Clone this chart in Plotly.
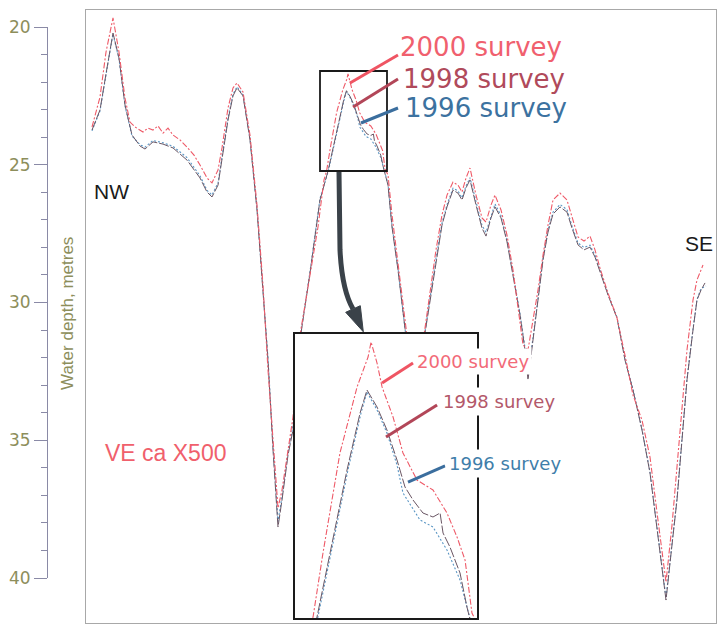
import plotly.graph_objects as go

# Echo-sounder profile NW -> SE across the banks: distance along line (km), water depth (m)
dist_2000 = [0.12, 0.28, 0.40, 0.54, 0.66, 0.78, 0.88, 0.98, 1.14, 1.24, 1.34, 1.44, 1.54, 1.64, 1.74,
             1.88, 2.02, 2.16, 2.28, 2.42, 2.52, 2.64, 2.72, 2.84, 2.94, 3.02, 3.14, 3.28, 3.42, 3.54,
             3.64, 3.74, 3.84, 3.92, 4.04, 4.14, 4.28, 4.48, 4.64, 4.76, 4.813, 4.886, 5.011, 5.137,
             5.218, 5.240, 5.284, 5.321, 5.402, 5.475, 5.578, 5.696, 5.799, 5.873, 5.932, 5.983, 6.04,
             6.12, 6.24, 6.38, 6.48, 6.58, 6.68, 6.78, 6.88, 7.00, 7.12, 7.22, 7.34, 7.44, 7.52, 7.60,
             7.68, 7.80, 7.92, 8.00, 8.10, 8.18, 8.30, 8.42, 8.54, 8.64, 8.74, 8.84, 8.94, 9.04, 9.14,
             9.24, 9.34, 9.48, 9.62, 9.72, 9.84, 9.96, 10.08, 10.18, 10.28, 10.44, 10.62, 10.78, 10.94,
             11.12, 11.28, 11.44, 11.60, 11.72, 11.82, 11.92, 12.02, 12.14, 12.22, 12.34]
depth_2000 = [23.63, 22.54, 20.91, 19.67, 20.91, 22.58, 23.45, 23.63, 23.81, 23.67, 23.74, 23.59, 23.85,
              23.67, 23.92, 24.10, 24.36, 24.65, 25.01, 25.48, 25.66, 25.19, 24.39, 22.94, 22.21, 22.03,
              22.36, 23.92, 26.46, 29.37, 32.45, 34.99, 37.46, 36.81, 35.35, 34.16, 31.18, 29.08, 27.26,
              25.55, 25.214, 24.396, 23.118, 22.274, 21.891, 21.699, 21.968, 22.274, 22.658, 23.118,
              23.463, 23.591, 23.885, 24.192, 24.486, 25.163, 25.37, 26.82, 28.53, 30.64, 32.09, 33.00,
              32.16, 30.93, 29.55, 28.09, 26.82, 26.10, 25.63, 25.74, 25.99, 25.48, 25.12, 26.10, 26.93,
              27.08, 26.46, 26.10, 26.64, 27.55, 28.82, 30.09, 31.54, 31.72, 30.64, 29.55, 28.28, 27.19,
              26.28, 26.03, 26.28, 26.93, 27.62, 27.77, 27.59, 28.09, 28.75, 29.66, 30.56, 31.91, 33.36,
              34.27, 35.61, 37.90, 40.15, 38.08, 35.97, 33.90, 31.72, 29.91, 29.18, 28.64]

dist_1998 = [0.12, 0.28, 0.42, 0.54, 0.66, 0.78, 0.92, 1.08, 1.18, 1.34, 1.54, 1.74, 2.02, 2.28, 2.42,
             2.52, 2.64, 2.72, 2.84, 2.94, 3.02, 3.14, 3.28, 3.42, 3.54, 3.64, 3.74, 3.84, 3.92, 4.04,
             4.14, 4.28, 4.48, 4.68, 4.842, 4.938, 5.063, 5.159, 5.210, 5.284, 5.357, 5.431, 5.490,
             5.549, 5.622, 5.696, 5.748, 5.770, 5.821, 5.895, 5.946, 6.04, 6.12, 6.24, 6.38, 6.48, 6.58,
             6.68, 6.78, 6.88, 7.00, 7.12, 7.22, 7.34, 7.44, 7.52, 7.60, 7.68, 7.80, 7.92, 8.00, 8.10,
             8.18, 8.30, 8.42, 8.54, 8.68, 8.78, 8.84, 8.94, 9.04, 9.14, 9.24, 9.34, 9.48, 9.62, 9.72,
             9.84, 9.96, 10.08, 10.18, 10.28, 10.44, 10.62, 10.78, 10.94, 11.12, 11.28, 11.44, 11.60,
             11.72, 11.82, 11.92, 12.02, 12.14, 12.22, 12.30, 12.38]
depth_1998 = [23.74, 23.01, 21.49, 20.22, 21.13, 22.83, 23.92, 24.32, 24.43, 24.17, 24.25, 24.39, 24.83,
              25.48, 25.99, 26.17, 25.74, 24.83, 23.38, 22.50, 22.21, 22.50, 24.10, 26.64, 29.55, 32.09,
              35.35, 38.15, 37.17, 35.54, 34.63, 31.36, 28.93, 26.28, 25.214, 24.396, 23.335, 22.607,
              22.313, 22.530, 22.824, 23.208, 23.553, 23.719, 23.885, 23.936, 23.885, 24.141, 24.320,
              24.652, 25.086, 25.74, 27.26, 28.82, 31.00, 32.45, 33.36, 32.45, 31.11, 29.91, 28.46,
              27.19, 26.53, 25.92, 26.03, 26.28, 25.84, 25.55, 26.46, 27.30, 27.59, 26.93, 26.53, 26.93,
              27.80, 29.00, 30.45, 31.72, 32.81, 31.36, 29.91, 28.46, 27.44, 26.79, 26.53, 26.72, 27.30,
              27.91, 28.09, 27.99, 28.35, 28.89, 29.73, 30.56, 32.09, 33.18, 34.63, 36.19, 38.44, 40.80,
              38.80, 37.17, 34.99, 32.81, 31.00, 29.91, 29.55, 29.29]

dist_1996 = [0.12, 0.28, 0.42, 0.54, 0.66, 0.78, 0.92, 1.08, 1.18, 1.34, 1.54, 1.74, 2.02, 2.28, 2.42,
             2.52, 2.64, 2.72, 2.84, 2.94, 3.02, 3.14, 3.28, 3.42, 3.54, 3.64, 3.74, 3.84, 3.92, 4.04,
             4.14, 4.28, 4.48, 4.68, 4.849, 4.945, 5.070, 5.166, 5.210, 5.284, 5.357, 5.431, 5.475,
             5.600, 5.696, 5.799, 5.895, 5.946, 6.04, 6.12, 6.24, 6.38, 6.48, 6.58, 6.68, 6.78, 6.88,
             7.00, 7.12, 7.22, 7.34, 7.44, 7.52, 7.60, 7.68, 7.80, 7.92, 8.00, 8.10, 8.18, 8.30, 8.42,
             8.54, 8.68, 8.78, 8.84, 8.94, 9.04, 9.14, 9.24, 9.34, 9.48, 9.62, 9.72, 9.84, 9.96, 10.08,
             10.18, 10.28, 10.44, 10.62, 10.78, 10.94, 11.12, 11.28, 11.44, 11.60, 11.72, 11.82, 11.92,
             12.02, 12.14, 12.22, 12.30, 12.40]
depth_1996 = [23.77, 23.05, 21.52, 20.26, 21.16, 22.86, 23.96, 24.27, 24.36, 24.12, 24.20, 24.33, 24.74,
              25.40, 25.93, 26.10, 25.66, 24.75, 23.30, 22.44, 22.17, 22.46, 24.05, 26.58, 29.50, 32.02,
              35.20, 37.95, 37.05, 35.45, 34.50, 31.30, 28.88, 26.22, 25.214, 24.396, 23.335, 22.607,
              22.338, 22.568, 22.862, 23.271, 23.629, 23.974, 24.064, 24.358, 24.741, 25.086, 25.70,
              27.20, 28.76, 30.95, 32.40, 33.30, 32.38, 31.05, 29.84, 28.40, 27.12, 26.45, 25.85, 25.95,
              26.20, 25.77, 25.47, 26.38, 27.20, 27.45, 26.85, 26.42, 26.85, 27.72, 28.94, 30.40, 31.65,
              32.65, 31.28, 29.85, 28.40, 27.38, 26.72, 26.44, 26.63, 27.22, 27.84, 28.00, 27.92, 28.28,
              28.84, 29.70, 30.53, 32.05, 33.15, 34.60, 36.15, 38.40, 40.72, 38.74, 37.10, 34.94, 32.76,
              30.96, 29.88, 29.50, 29.40]

survey_names = ["1996 survey", "1998 survey", "2000 survey"]
depth_ticks = [20, 25, 30, 35, 40]

# Window around the second crest that is enlarged in the inset
zoom_dist = [4.68, 6.02]
zoom_depth = [21.597, 25.227]

C2000, C1998, C1996 = "#ef5563", "#b24658", "#3b6e9e"
OLIVE = "#8d8e5b"
AXIS = "#8a8aa6"
FONT_A = "Liberation Sans, Arial, sans-serif"
FONT_B = "DejaVu Sans, Verdana, sans-serif"

series = [
    (dist_1996, depth_1996, dict(color="#5a96c4", width=1.1, dash="2px,2px")),
    (dist_1998, depth_1998, dict(color="#6a5664", width=1.0, dash="10px,2px")),
    (dist_2000, depth_2000, dict(color="#ee5a68", width=1.1, dash="6px,2px,2px,2px")),
]

fig = go.Figure()
for (d, z, ln), name in zip(series, survey_names):
    fig.add_trace(go.Scatter(x=d, y=z, mode="lines", line=ln, name=name,
                             xaxis="x", yaxis="y", hoverinfo="skip"))
for (d, z, ln), name in zip(series, survey_names):
    fig.add_trace(go.Scatter(x=d, y=z, mode="lines", line=ln, name=name,
                             xaxis="x3", yaxis="y3", hoverinfo="skip"))
# carrier for the free-standing depth scale
fig.add_trace(go.Scatter(x=[0], y=[30], mode="markers", marker=dict(opacity=0),
                         xaxis="x2", yaxis="y2", hoverinfo="skip"))

W, H = 718, 628
px_per_m = 27.55
top_depth = 20 - 17 / px_per_m
bot_depth = 40 + 45 / px_per_m

hidden = dict(showgrid=False, zeroline=False, showticklabels=False, ticks="")
fig.update_layout(
    width=W, height=H, margin=dict(l=0, r=0, t=0, b=0, autoexpand=False),
    paper_bgcolor="white", plot_bgcolor="white", showlegend=False,
    xaxis=dict(domain=[86 / W, 716 / W], range=[0, 12.6], showline=True, mirror=True,
               linecolor="#a8a8a8", linewidth=1, **hidden),
    yaxis=dict(domain=[1 - 623 / H, 1 - 10 / H], range=[bot_depth, top_depth], showline=True,
               mirror=True, linecolor="#a8a8a8", linewidth=1, **hidden),
    xaxis2=dict(domain=[48 / W, 52 / W], visible=False, range=[-1, 1], anchor="y2"),
    yaxis2=dict(domain=[1 - 578 / H, 1 - 27 / H], range=[40, 20], anchor="x2", side="left",
                showline=True, linecolor=AXIS, linewidth=1, showgrid=False, zeroline=False,
                tickmode="array", tickvals=depth_ticks, ticktext=[str(t) for t in depth_ticks],
                ticks="outside", ticklen=13, tickwidth=1, tickcolor=AXIS,
                tickfont=dict(family=FONT_B, size=17, color=OLIVE),
                minor=dict(dtick=1, tick0=20, ticks="outside", ticklen=6, tickwidth=1, tickcolor=AXIS)),
    xaxis3=dict(domain=[295 / W, 477 / W], range=zoom_dist, anchor="y3", showline=True, mirror=True,
                linecolor="#1a1a1a", linewidth=2, **hidden),
    yaxis3=dict(domain=[1 - 618 / H, 1 - 334 / H], range=[zoom_depth[1], zoom_depth[0]], anchor="x3",
                showline=True, mirror=True, linecolor="#1a1a1a", linewidth=2, **hidden),
)

shapes = []
# frame marking the enlarged window
shapes.append(dict(type="rect", xref="x", yref="y", x0=zoom_dist[0], x1=zoom_dist[1],
                   y0=zoom_depth[0], y1=zoom_depth[1], line=dict(color="#1a1a1a", width=1.8)))
# curved arrow down to the inset
shapes.append(dict(type="path", xref="x", yref="y",
                   path="M 5.06,25.263 L 5.08,28.094 Q 5.12,29.546 5.34,30.236",
                   line=dict(color="#3a4249", width=5)))
shapes.append(dict(type="path", xref="x", yref="y",
                   path="M 5.194,30.356 L 5.486,30.116 L 5.546,31.063 Z",
                   fillcolor="#3a4249", line=dict(color="#3a4249", width=1)))

# leader lines from labels to the profiles
main_leaders = [((6.24, 21.016), (5.28, 22.033), C2000),
                ((6.24, 21.887), (5.34, 22.904), C1998),
                ((6.24, 22.940), (5.50, 23.485), C1996)]
for (a, b, c) in main_leaders:
    shapes.append(dict(type="line", xref="x", yref="y", x0=a[0], y0=a[1], x1=b[0], y1=b[1],
                       line=dict(color=c, width=3)))
inset_leaders = [((5.549, 21.968), (5.321, 22.223), C2000),
                 ((5.726, 22.505), (5.350, 22.914), C1998),
                 ((5.785, 23.284), (5.512, 23.489), C1996)]
for (a, b, c) in inset_leaders:
    shapes.append(dict(type="line", xref="x3", yref="y3", x0=a[0], y0=a[1], x1=b[0], y1=b[1],
                       line=dict(color=c, width=3)))
fig.update_layout(shapes=shapes)

ann = []
def label(text, x, y, size, color, family, xanchor="center", **kw):
    ann.append(dict(text=text, x=x / W, y=1 - y / H, xref="paper", yref="paper", showarrow=False,
                    xanchor=xanchor, yanchor="middle",
                    font=dict(size=size, color=color, family=family), **kw))

label("2000 survey", 398, 47.5, 26, "#f0606e", FONT_B, xanchor="left")
label("1998 survey", 401, 79, 26, "#b04a5b", FONT_B, xanchor="left")
label("1996 survey", 403, 107.5, 26, "#3c72a0", FONT_B, xanchor="left")
label("2000 survey", 414, 361.5, 18, "#f26a78", FONT_B, xanchor="left", bgcolor="white", borderpad=2)
label("1998 survey", 439, 401, 18, "#b3586a", FONT_B, xanchor="left", bgcolor="white", borderpad=3)
label("1996 survey", 445, 463, 18, "#3f7eaa", FONT_B, xanchor="left", bgcolor="white", borderpad=3)
label("VE ca X500", 165, 453, 23, "#f0606c", FONT_A)
label("NW", 111, 192, 21, "#1a1a1a", FONT_A)
label("SE", 699, 243, 21, "#1a1a1a", FONT_A)
label("Water depth, metres", 67, 314, 17, OLIVE, FONT_A, textangle=-90)
fig.update_layout(annotations=ann)

fig.write_html("out.html")
